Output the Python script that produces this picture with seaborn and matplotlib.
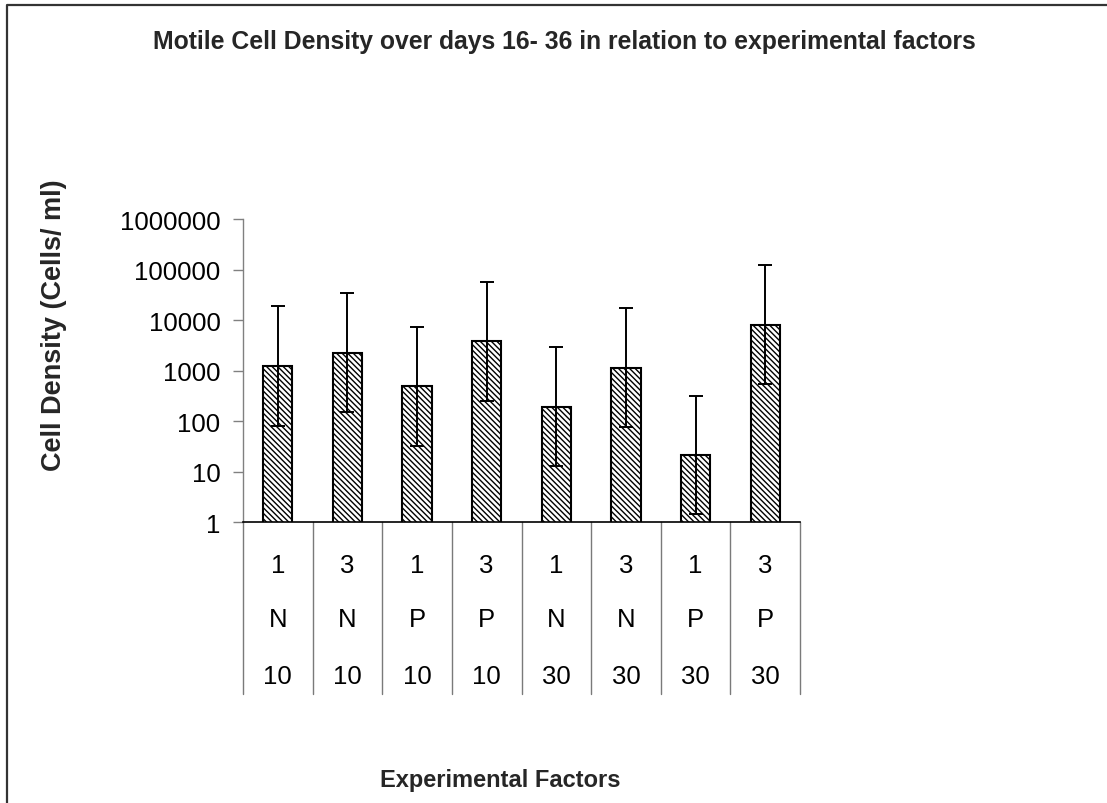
import numpy as np
import pandas as pd
import matplotlib
matplotlib.use("Agg")
import matplotlib.pyplot as plt
import matplotlib.transforms as mtransforms
from matplotlib.lines import Line2D
from matplotlib.ticker import NullLocator
import seaborn as sns

# Experimental factor levels for each treatment group
factor_a = ["1", "3", "1", "3", "1", "3", "1", "3"]
factor_b = ["N", "N", "P", "P", "N", "N", "P", "P"]
factor_c = ["10", "10", "10", "10", "30", "30", "30", "30"]

# Mean motile cell density (cells/ml) with lower and upper error-bar bounds
density = [1260, 2240, 490, 3780, 192, 1140, 21.5, 8100]
err_low = [82, 151, 32.5, 250, 12.9, 76, 1.44, 540]
err_high = [19000, 34000, 7400, 58000, 2930, 17300, 322, 123000]

ytick_values = [1, 10, 100, 1000, 10000, 100000, 1000000]
ytick_labels = ["1", "10", "100", "1000", "10000", "100000", "1000000"]

title = "Motile Cell Density over days 16- 36 in relation to experimental factors"
xlabel = "Experimental Factors"
ylabel = "Cell Density (Cells/ ml)"

groups = [f"{a} {b} {c}" for a, b, c in zip(factor_a, factor_b, factor_c)]
df = pd.DataFrame({"group": groups, "density": density})

sns.set_style("white")
plt.rcParams["font.family"] = ["Liberation Sans", "DejaVu Sans"]
plt.rcParams["hatch.linewidth"] = 1.0
plt.rcParams["hatch.color"] = "black"

W, H = 1107, 804
fig = plt.figure(figsize=(W / 100, H / 100), dpi=100)
fig.patch.set_facecolor("white")

ax_left, ax_right, ax_top, ax_bottom = 243, 800, 220, 523.3
ax = fig.add_axes([ax_left / W, 1 - ax_bottom / H,
                   (ax_right - ax_left) / W, (ax_bottom - ax_top) / H])

sns.barplot(data=df, x="group", y="density", order=groups, color="white",
            saturation=1, edgecolor="black", linewidth=1.5, width=0.42,
            errorbar=None, hatch="\\" * 6, ax=ax, zorder=2)

ax.set_yscale("log")
ax.set_ylim(1, 1e6)
ax.set_xlim(-0.5, len(groups) - 0.5)

dens = np.array(density, dtype=float)
lo = np.array(err_low, dtype=float)
hi = np.array(err_high, dtype=float)
ax.errorbar(np.arange(len(groups)), dens, yerr=[dens - lo, hi - dens],
            fmt="none", ecolor="black", elinewidth=1.4, capsize=5,
            capthick=1.4, zorder=3, clip_on=False)

# axes styling
for side in ("top", "right"):
    ax.spines[side].set_visible(False)
ax.spines["left"].set_color("#808080")
ax.spines["left"].set_linewidth(1.0)
ax.spines["bottom"].set_color("black")
ax.spines["bottom"].set_linewidth(1.2)
ax.set_yticks(ytick_values, labels=ytick_labels)
ax.yaxis.set_minor_locator(NullLocator())
ax.tick_params(axis="y", length=7.2, width=1.0, color="#808080", pad=9,
               labelsize=18.5, labelcolor="black", left=True)
ax.tick_params(axis="x", length=0, labelbottom=False)
ax.set_xlabel("")
ax.set_ylabel("")
ax.grid(False)

# multi-level category table under the axis
trans = mtransforms.blended_transform_factory(ax.transData, ax.transAxes)
span = ax_bottom - ax_top
table_depth = (695 - ax_bottom) / span
for b in np.arange(len(groups) + 1) - 0.5:
    ax.plot([b, b], [0, -table_depth], transform=trans, color="#7a7a7a",
            lw=1.0, clip_on=False)
row_y = [-(566 - ax_bottom) / span, -(620 - ax_bottom) / span,
         -(677 - ax_bottom) / span]
for i, (a, b, c) in enumerate(zip(factor_a, factor_b, factor_c)):
    for yy, lab in zip(row_y, (a, b, c)):
        ax.text(i, yy, lab, transform=trans, ha="center", va="center",
                fontsize=18.5, color="black")

# titles
fig.text(564 / W, 1 - 42 / H, title, ha="center", va="center",
         fontsize=17.8, fontweight="bold")
fig.text(500 / W, 1 - 781 / H, xlabel, ha="center", va="center",
         fontsize=17, fontweight="bold")
fig.text(54 / W, 1 - 325 / H, ylabel, ha="center", va="center",
         rotation=90, fontsize=19.5, fontweight="bold")

# chart border
fig.add_artist(Line2D([7 / W, 7 / W, 1.01], [-0.01, 1 - 6 / H, 1 - 6 / H],
                      color="#333333", lw=1.6))

fig.savefig("out.png", dpi=100)
